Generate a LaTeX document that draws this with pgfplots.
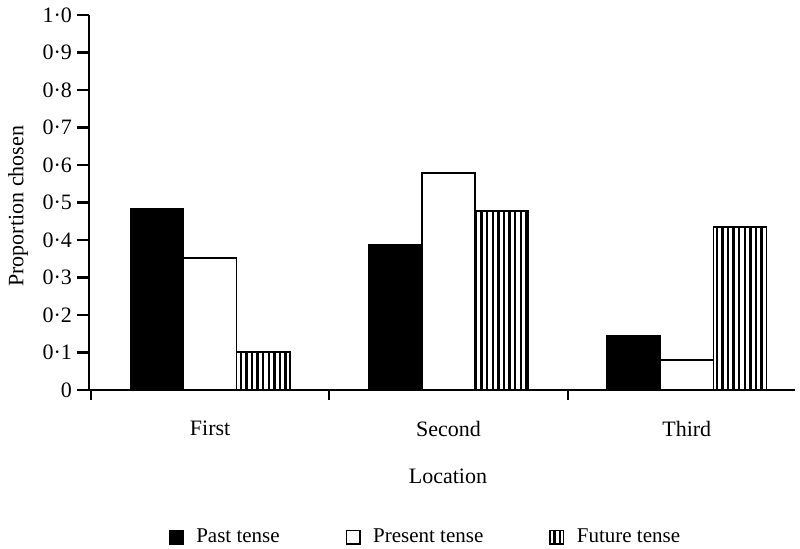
\documentclass[border=0pt]{standalone}
\usepackage{fontspec}
\setmainfont{Liberation Serif}
\usepackage{pgfplots}
\pgfplotsset{compat=1.18}
\usetikzlibrary{patterns.meta}
\begin{document}
\begin{tikzpicture}
\path[use as bounding box] (0,0) rectangle (400pt,274pt);
\begin{axis}[
  at={(44.5pt,79pt)}, anchor=south west,
  scale only axis, width=353pt, height=187.5pt,
  xmin=-0.508, xmax=2.454, ymin=0, ymax=1,
  axis lines*=left,
  axis line style={line width=1.2pt},
  ybar=0pt, bar width=0.223,
  xtick={0,1,2}, xticklabels={First,Second,Third},
  major x tick style={draw=none},
  minor xtick={-0.5,0.5,1.5},
  minor x tick style={line width=1.1pt, black},
  minor tick length=5pt,
  major tick length=6pt,
  y tick style={line width=1.1pt, black},
  tick align=outside,
  ytick={0,0.1,0.2,0.3,0.4,0.5,0.6,0.7,0.8,0.9,1.0},
  yticklabels={0,0·1,0·2,0·3,0·4,0·5,0·6,0·7,0·8,0·9,1·0},
  /pgf/number format/assume math mode=true,
  tick label style={font=\fontsize{11}{13}\selectfont},
  yticklabel style={xshift=1pt},
  xticklabel style={yshift=-6pt},
  every axis x label/.style={at={(axis description cs:0.5085,-0.229)},anchor=center,font=\fontsize{11}{13}\selectfont},
  every axis y label/.style={at={(axis description cs:-0.1006,0.49)},rotate=90,anchor=center,font=\fontsize{11}{13}\selectfont},
  xlabel={Location}, ylabel={Proportion chosen},
  legend style={at={(0.478,-0.392)}, anchor=center, draw=none, legend columns=3,
    font=\fontsize{10.5}{12}\selectfont,
    /tikz/every even column/.append style={column sep=31pt}},
  legend image code/.code={\draw[#1, line width=0.7pt] (0pt,-3.4pt) rectangle (6.8pt,3.4pt); \path (11pt,0pt);},
]
\addplot[draw=black, line width=0.8pt, fill=black] coordinates {(0,0.483) (1,0.387) (2,0.145)};
\addplot[draw=black, line width=0.8pt, fill=white] coordinates {(0,0.352) (1,0.579) (2,0.08)};
\addplot[draw=black, line width=0.8pt, pattern={Lines[angle=90,distance=2.8pt,line width=1.2pt]}] coordinates {(0,0.101) (1,0.477) (2,0.435)};
\legend{Past tense, Present tense, Future tense}
\end{axis}
\end{tikzpicture}
\end{document}
